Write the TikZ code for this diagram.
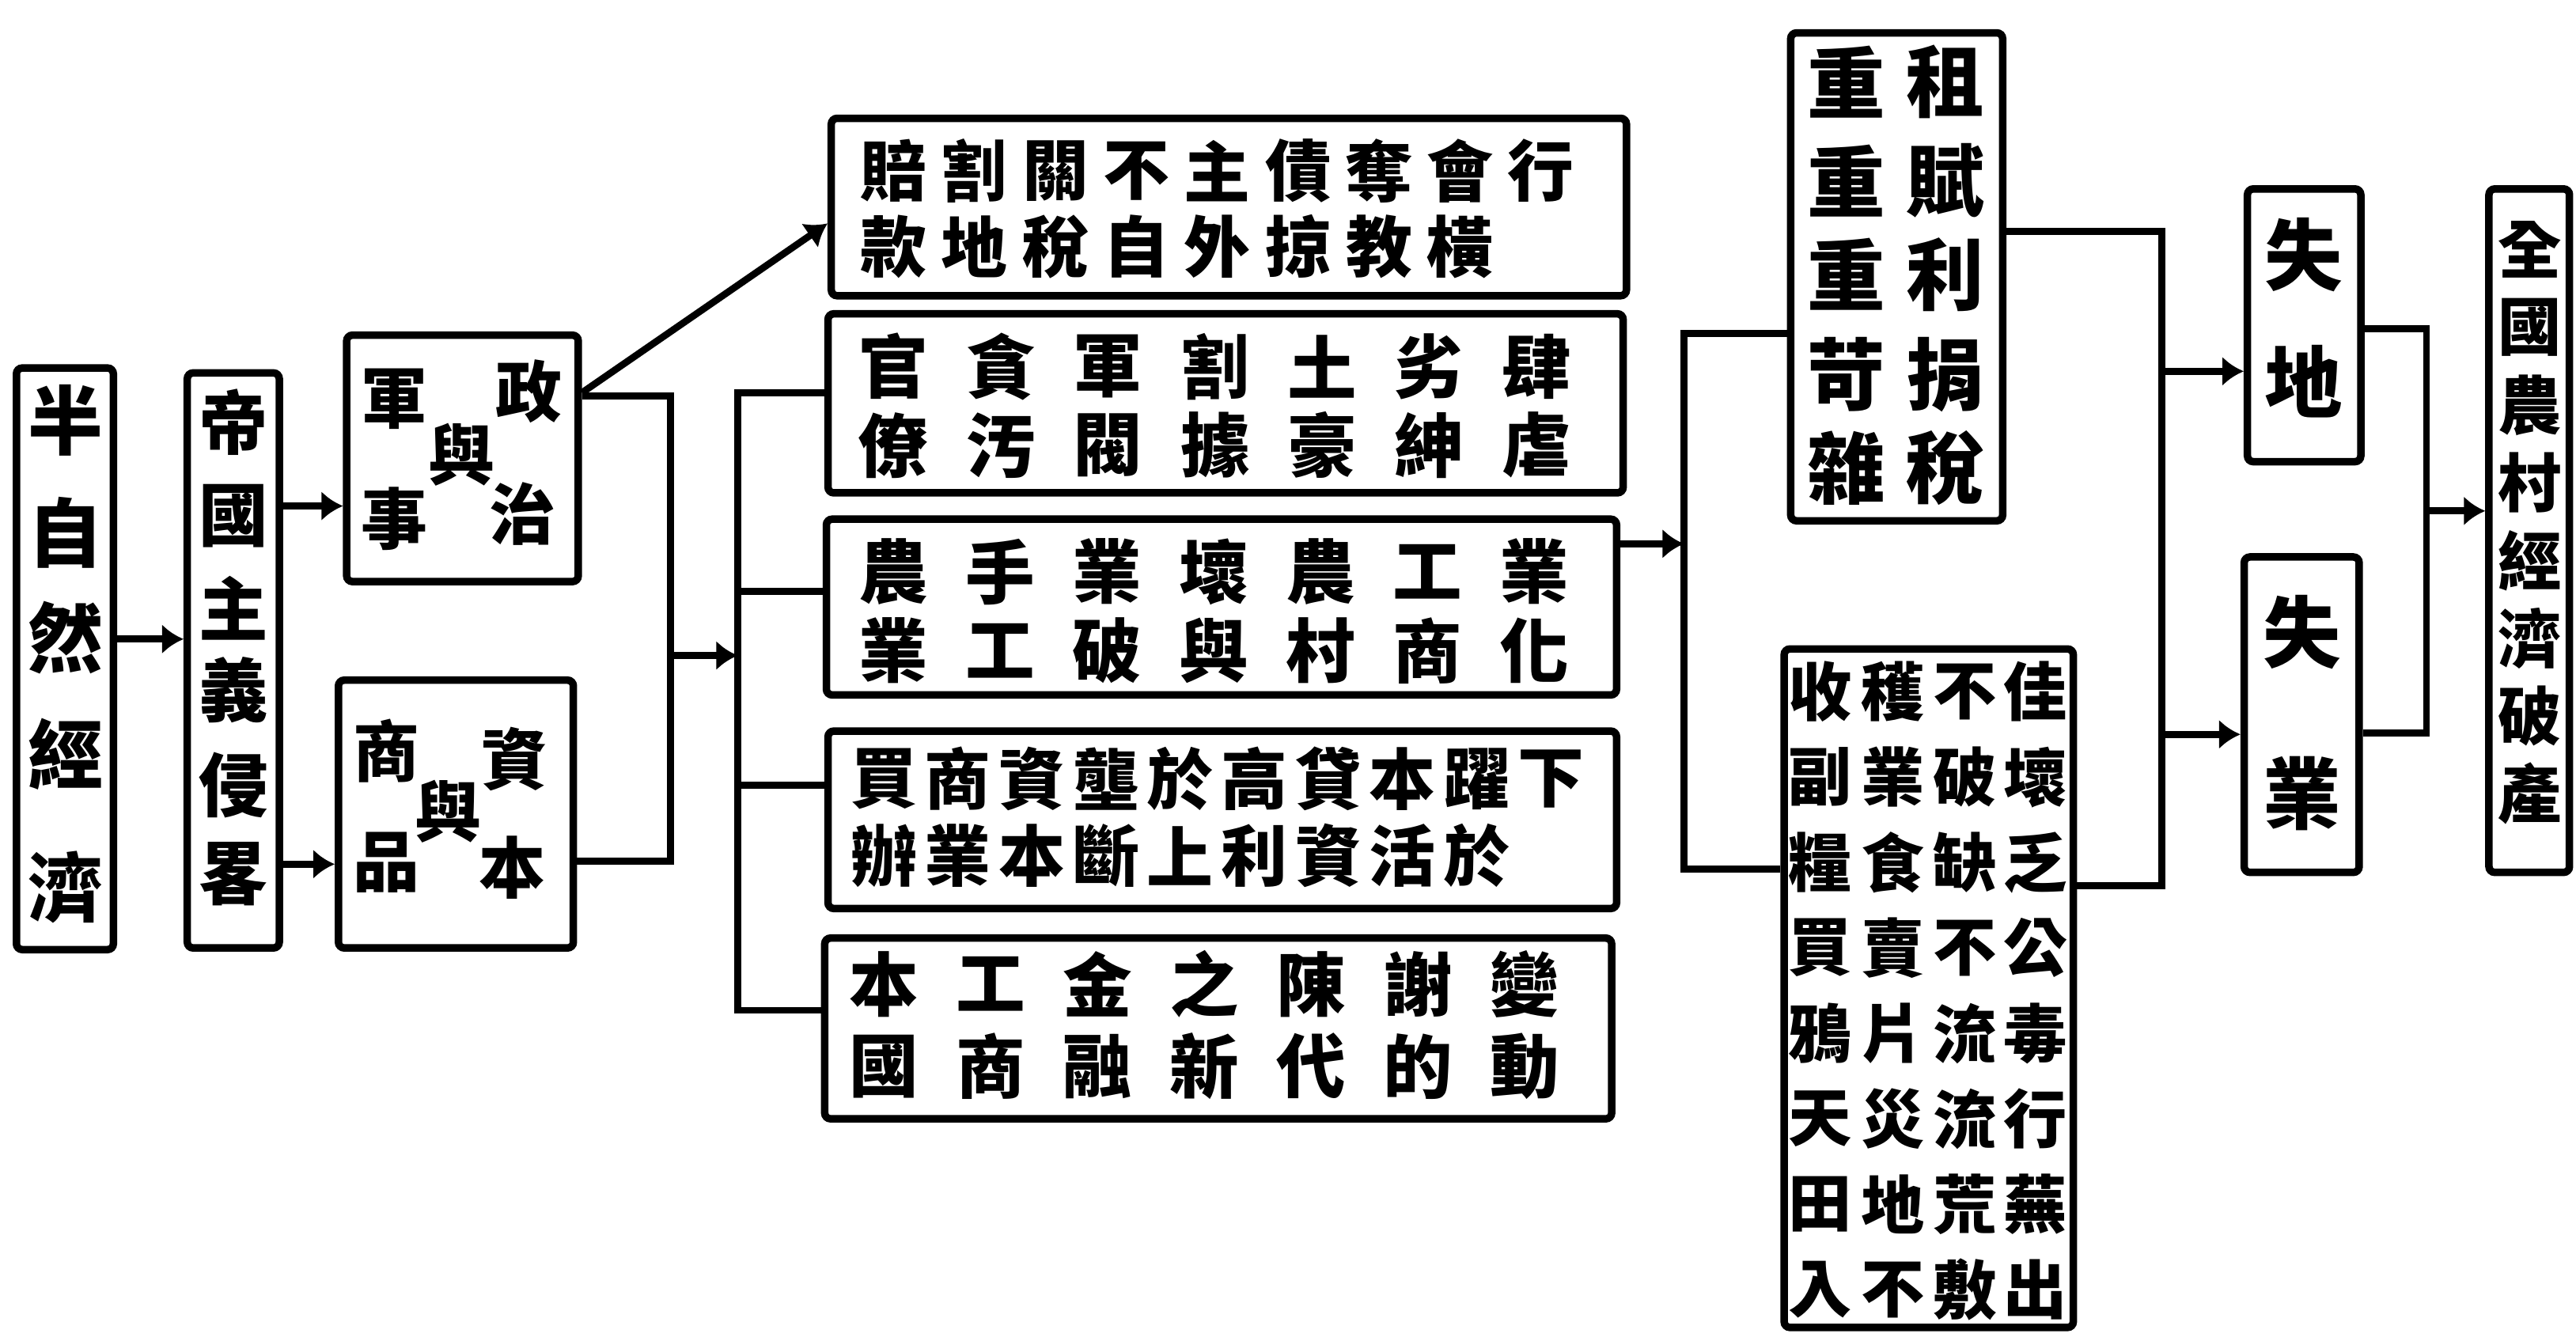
\documentclass[tikz,border=0pt]{standalone}
\usepackage{fontspec}
\newfontfamily\cjk{Noto Sans CJK TC}
\usetikzlibrary{arrows.meta,fit}
\tikzset{
  box/.style={draw, line width=2.6pt, inner sep=0pt, rounded corners=2pt},
  conn/.style={line width=2.4pt},
  arr/.style={conn, -{Latex[length=0.26cm,width=0.36cm]}},
  chbase/.style={inner sep=0pt, anchor=center},
  chA/.style={chbase, font=\cjk\bfseries\fontsize{26}{26}\selectfont},
  chB/.style={chbase, font=\cjk\bfseries\fontsize{24}{24}\selectfont},
  chC/.style={chbase, font=\cjk\bfseries\fontsize{23}{23}\selectfont},
  chM/.style={chbase, font=\cjk\bfseries\fontsize{24}{24}\selectfont},
  chN/.style={chbase, font=\cjk\bfseries\fontsize{23}{23}\selectfont},
  chR/.style={chbase, font=\cjk\bfseries\fontsize{27}{27}\selectfont},
  chQ/.style={chbase, font=\cjk\bfseries\fontsize{22}{22}\selectfont},
  chS/.style={chbase, font=\cjk\bfseries\fontsize{27}{27}\selectfont},
  chF/.style={chbase, font=\cjk\bfseries\fontsize{22}{22}\selectfont},
}
\begin{document}
\begin{tikzpicture}[x=0.02cm,y=-0.02cm]
\fill[white] (0,0) rectangle (1568,816);
\useasboundingbox (0,0) rectangle (1568,816);

% ---------- boxes ----------
\node[box, fit={(10,224) (69,578)}] (A) {};
\node[box, fit={(114,227) (170,577)}] (B) {};
\node[box, fit={(211,204) (352,354)}] (C) {};
\node[box, fit={(206,414) (349,577)}] (D) {};
\node[box, fit={(506,72) (990,180)}] (M1) {};
\node[box, fit={(504,191) (988,300)}] (M2) {};
\node[box, fit={(503,316) (984,423)}] (M3) {};
\node[box, fit={(504,445) (984,553)}] (M4) {};
\node[box, fit={(502,571) (981,681)}] (M5) {};
\node[box, fit={(1090,20) (1219,317)}] (R1) {};
\node[box, fit={(1086,395) (1262,808)}] (R2) {};
\node[box, fit={(1368,115) (1437,281)}] (SD) {};
\node[box, fit={(1366,339) (1436,531)}] (SY) {};
\node[box, fit={(1515,115) (1564,531)}] (F) {};

% ---------- texts ----------
\foreach \c/\y [count=\i] in {半/256,自/324,然/388,經/459,濟/540}
  \node[chA] (a\i) at (40,\y) {\c};
\foreach \c/\y [count=\i] in {帝/257,國/314,主/370,義/420,侵/478,畧/532}
  \node[chB] (b\i) at (142,\y) {\c};
\node[chC] (c1) at (322,238) {政};
\node[chC] (c2) at (318,313) {治};
\node[chC] (c3) at (281,277) {與};
\node[chC] (c4) at (240,243) {軍};
\node[chC] (c5) at (240,316) {事};
\node[chC] (d1) at (313,462) {資};
\node[chC] (d2) at (312,528) {本};
\node[chC] (d3) at (273,494) {與};
\node[chC] (d4) at (235,457) {商};
\node[chC] (d5) at (235,525) {品};

\foreach \c [count=\i] in {賠,割,關,不,主,債,奪,會,行}
  \node[chN] (ma\i) at ({544+49.25*(\i-1)},104) {\c};
\foreach \c [count=\i] in {款,地,稅,自,外,掠,教,橫}
  \node[chN] (mb\i) at ({544+49.25*(\i-1)},150) {\c};
\foreach \c [count=\i] in {官,貪,軍,割,土,劣,肆}
  \node[chM] (na\i) at ({544+65.2*(\i-1)},223) {\c};
\foreach \c [count=\i] in {僚,汚,閥,據,豪,紳,虐}
  \node[chM] (nb\i) at ({544+65.2*(\i-1)},271) {\c};
\foreach \c [count=\i] in {農,手,業,壞,農,工,業}
  \node[chM] (oa\i) at ({544+65*(\i-1)},348) {\c};
\foreach \c [count=\i] in {業,工,破,與,村,商,化}
  \node[chM] (ob\i) at ({544+65*(\i-1)},396) {\c};
\foreach \c [count=\i] in {買,商,資,壟,於,高,貸,本,躍,下}
  \node[chN] (pa\i) at ({538+45.1*(\i-1)},474) {\c};
\foreach \c [count=\i] in {辦,業,本,斷,上,利,資,活,於}
  \node[chN] (pb\i) at ({538+45.1*(\i-1)},521) {\c};
\foreach \c [count=\i] in {本,工,金,之,陳,謝,變}
  \node[chM] (qa\i) at ({538+65*(\i-1)},599) {\c};
\foreach \c [count=\i] in {國,商,融,新,代,的,動}
  \node[chM] (qb\i) at ({538+65*(\i-1)},649) {\c};

\foreach \l/\r/\y [count=\i] in {重/租/50,重/賦/110,重/利/167,苛/捐/228,雜/稅/285}{
  \node[chR] (ra\i) at (1124,\y) {\l};
  \node[chR] (rb\i) at (1184,\y) {\r};
}
\foreach \p/\q/\s/\t [count=\i] in {收/穫/不/佳,副/業/破/壞,糧/食/缺/乏,買/賣/不/公,鴉/片/流/毒,天/災/流/行,田/地/荒/蕪,入/不/敷/出}{
  \node[chQ] (sa\i) at (1108,{421+52*(\i-1)}) {\p};
  \node[chQ] (sb\i) at (1152,{421+52*(\i-1)}) {\q};
  \node[chQ] (sc\i) at (1196,{421+52*(\i-1)}) {\s};
  \node[chQ] (sd\i) at (1239,{421+52*(\i-1)}) {\t};
}
\node[chS] (t1) at (1402,155) {失};
\node[chS] (t2) at (1402,232) {地};
\node[chS] (u1) at (1401,385) {失};
\node[chS] (u2) at (1401,483) {業};
\foreach \c [count=\i] in {全,國,農,村,經,濟,破,產}
  \node[chF] (f\i) at (1540,{152+47.3*(\i-1)}) {\c};

% ---------- connectors ----------
\draw[arr] (A.east |- 0,389) -- (B.west |- 0,389);
\draw[arr] (B.east |- 0,308) -- (C.west |- 0,308);
\draw[arr] (B.east |- 0,526) -- (D.west |- 0,526);
\draw[arr] (C.east |- 0,239) -- (M1.west |- 0,136);
\coordinate (j1) at (408,399);
\draw[conn] (C.east |- 0,241) -| (j1);
\draw[conn] (D.east |- 0,524) -| (j1);
\coordinate (k1) at (449,399);
\draw[arr] (j1) -- (k1);
\draw[conn] (M2.west |- 0,239) -- (449,239) -- (449,615) -- (M5.west |- 0,615);
\draw[conn] (449,360) -- (M3.west |- 0,360);
\draw[conn] (449,478) -- (M4.west |- 0,478);

\coordinate (k2) at (1025,331);
\draw[arr] (M3.east |- 0,331) -- (k2);
\draw[conn] (R1.west |- 0,203) -- (1025,203) -- (1025,529) -- (R2.west |- 0,529);

\draw[conn] (R1.east |- 0,141) -- (1316,141) -- (1316,539) -- (R2.east |- 0,539);
\draw[arr] (1316,226) -- (SD.west |- 0,226);
\draw[arr] (1316,447) -- (SY.west |- 0,447);
\draw[conn] (SD.east |- 0,200) -- (1477,200) -- (1477,446) -- (SY.east |- 0,446);
\draw[arr] (1477,311) -- (F.west |- 0,311);
\end{tikzpicture}
\end{document}
